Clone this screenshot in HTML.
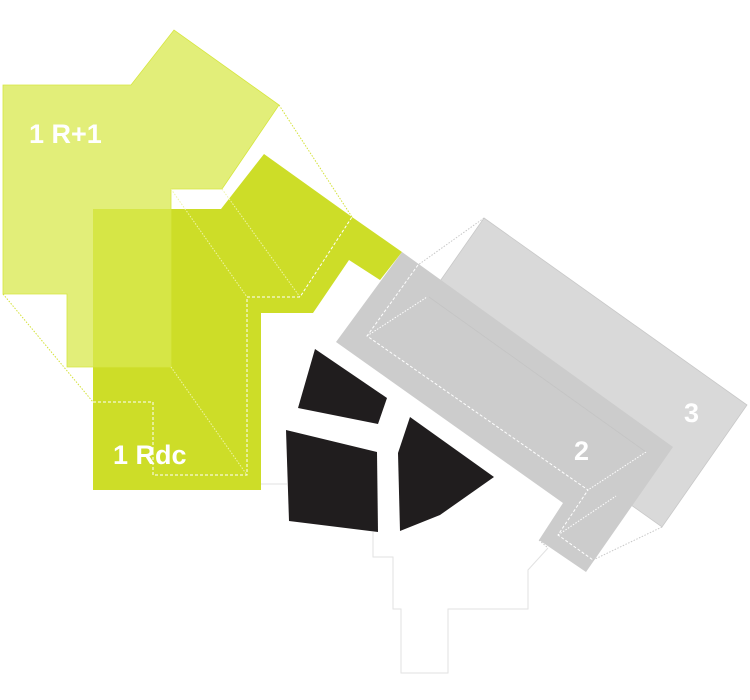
<!DOCTYPE html>
<html><head><meta charset="utf-8"><style>
html,body{margin:0;padding:0;background:#fff;}
svg{display:block;}
text{font-family:"Liberation Sans",sans-serif;font-weight:bold;fill:#fff;font-size:27px;}
</style></head><body>
<svg width="750" height="700" viewBox="0 0 750 700" xmlns="http://www.w3.org/2000/svg">
<!-- site outline -->
<polyline points="373,532 373,557 393,557 393,609 401,609 401,673 448,673 448,609 528,609 528,570 548,548" fill="none" stroke="#e2e2e2" stroke-width="1"/>
<line x1="261" y1="484" x2="287" y2="484" stroke="#e2e2e2" stroke-width="1"/>
<!-- dark green Rdc -->
<polygon points="93,209 221,209 264,154 352,217 402,252 380,280 349,260 313,313 261,313 261,490 93,490" fill="#cddd28"/>
<!-- light green R+1 -->
<polygon points="3,85 131,85 174,30 279,105 222,189 171,189 171,367 67,367 67,294 3,294" fill="rgb(217,233,80)" fill-opacity="0.765" stroke="#d6e640" stroke-width="0.8"/>
<!-- green dotted connectors -->
<g fill="none" stroke="#d4e23a" stroke-width="1" stroke-dasharray="1.5,1.5">
<line x1="279" y1="105" x2="352" y2="217"/>
<line x1="3" y1="294" x2="93" y2="402"/>
</g>
<g fill="none" stroke="#eef5a8" stroke-width="1" stroke-dasharray="1.5,1.5">
<line x1="171" y1="189" x2="247" y2="297"/>
<line x1="222" y1="189" x2="300" y2="297"/>
<line x1="171" y1="367" x2="247" y2="475"/>
</g>
<polyline points="93,402 153,402 153,475 247,475 247,297 300,297 352,217" fill="none" stroke="#fff" stroke-width="1" stroke-dasharray="3,2"/>
<!-- building 3 -->
<polygon points="484,218 747,405 662,527 399,340" fill="#d9d9d9" stroke="#c8c8c8" stroke-width="0.8"/>
<!-- building 2 -->
<polygon points="402,252 673,447 586,572 539,540 563,503 336,342" fill="#cccccc"/>
<line x1="429" y1="297" x2="646" y2="452" stroke="#c4c4c4" stroke-width="0.8"/>
<!-- gray dotted connectors -->
<g fill="none" stroke="#c8c8c8" stroke-width="1" stroke-dasharray="1.5,1.5">
<line x1="484" y1="218" x2="418" y2="265"/>
<line x1="662" y1="527" x2="593" y2="560"/>
<line x1="539" y1="540" x2="548" y2="548"/>
</g>
<g fill="none" stroke="#fff" stroke-width="1">
<polyline points="418,265 367,336 588,490 558,535 593,560" stroke-dasharray="3,2"/>
<polyline points="367,336 427,297" stroke-dasharray="1.5,1.5"/>
<polyline points="646,452 588,490" stroke-dasharray="1.5,1.5"/>
<polyline points="558,535 616,496" stroke-dasharray="1.5,1.5"/>
</g>
<!-- black blocks -->
<g fill="#201d1e">
<polygon points="315,349 387,398 378,424 298,408"/>
<polygon points="286,430 377,452 378,532 289,521"/>
<polygon points="410,417 494,477 440,515 400,531 398,453"/>
</g>
<text x="29" y="143">1 R+1</text>
<text x="113" y="464">1 Rdc</text>
<text x="574" y="460">2</text>
<text x="684" y="422">3</text>
</svg>
</body></html>
